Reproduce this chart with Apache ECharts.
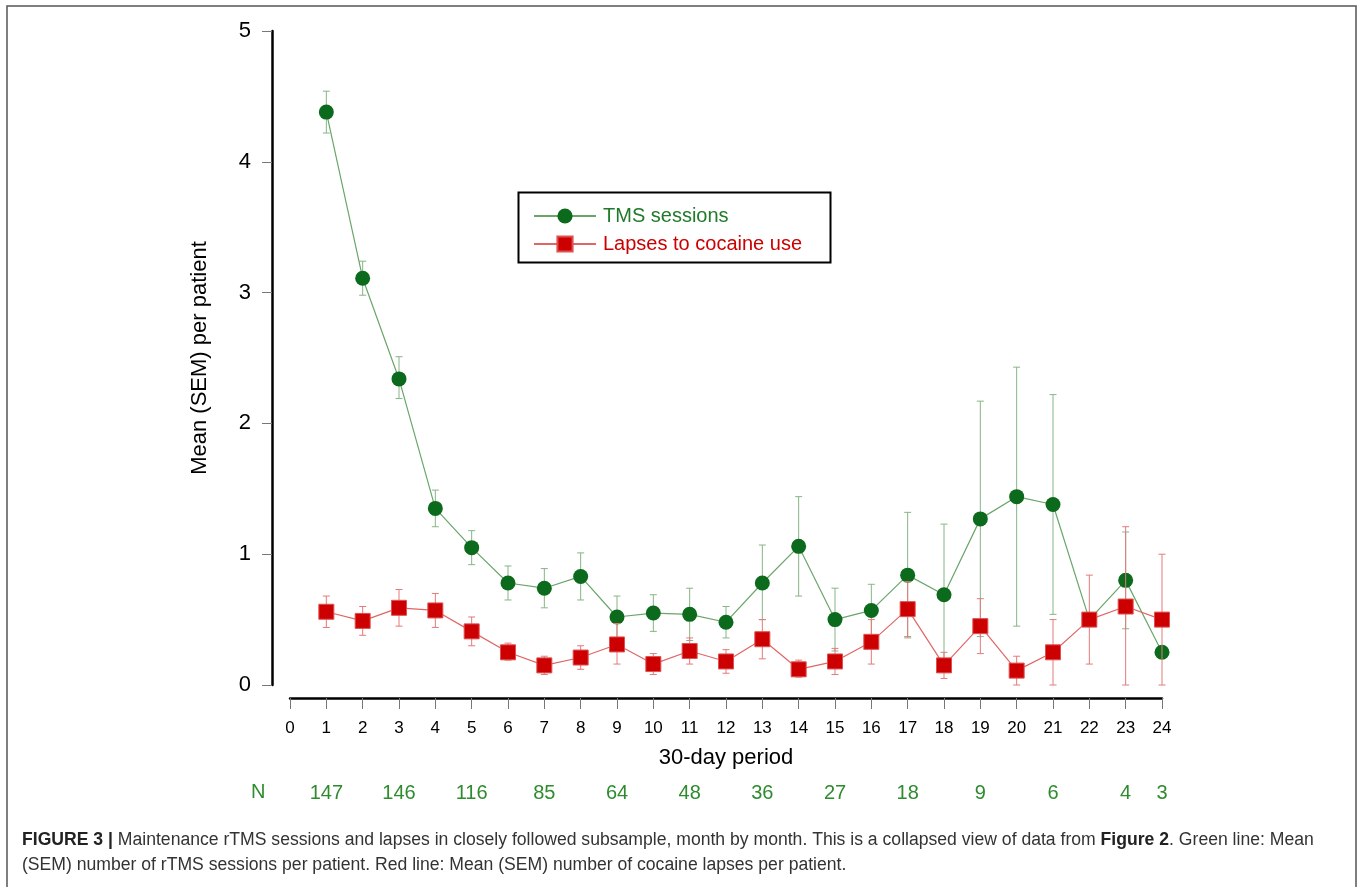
<!DOCTYPE html>
<html>
<head>
<meta charset="utf-8">
<script src="https://cdn.jsdelivr.net/npm/echarts@6/dist/echarts.min.js"></script>
<style>
  html, body { margin: 0; padding: 0; background: #fff; }
  #chart { width: 1357px; height: 887px; }
</style>
</head>
<body>
<div id="chart"></div>
<script>
// ---- data ----
const periods = [1,2,3,4,5,6,7,8,9,10,11,12,13,14,15,16,17,18,19,20,21,22,23,24];

const tmsMean  = [4.38,3.11,2.34,1.35,1.05,0.78,0.74,0.83,0.52,0.55,0.54,0.48,0.78,1.06,0.50,0.57,0.84,0.69,1.27,1.44,1.38,0.50,0.80,0.25];
const tmsUpper = [4.54,3.24,2.51,1.49,1.18,0.91,0.89,1.01,0.68,0.69,0.74,0.60,1.07,1.44,0.74,0.77,1.32,1.23,2.17,2.43,2.22,0.50,1.17,0.25];
const tmsLower = [4.22,2.98,2.19,1.21,0.92,0.65,0.59,0.65,0.36,0.41,0.34,0.36,0.50,0.68,0.26,0.37,0.36,0.15,0.37,0.45,0.54,0.50,0.43,0.25];

const lapseMean  = [0.56,0.49,0.59,0.57,0.41,0.25,0.15,0.21,0.31,0.16,0.26,0.18,0.35,0.12,0.18,0.33,0.58,0.15,0.45,0.11,0.25,0.50,0.60,0.50];
const lapseUpper = [0.68,0.60,0.73,0.70,0.52,0.32,0.22,0.30,0.47,0.24,0.36,0.27,0.50,0.19,0.28,0.50,0.79,0.25,0.66,0.22,0.50,0.84,1.21,1.00];
const lapseLower = [0.44,0.38,0.45,0.44,0.30,0.19,0.08,0.12,0.16,0.08,0.16,0.09,0.20,0.06,0.08,0.16,0.37,0.05,0.24,0.00,0.00,0.16,0.00,0.00];

const nPeriods = [1,3,5,7,9,11,13,15,17,19,21,23,24];
const nValues  = [147,146,116,85,64,48,36,27,18,9,6,4,3];

const yTicks = [0,1,2,3,4,5];

const captionLine1 = "{b|FIGURE 3 |} Maintenance rTMS sessions and lapses in closely followed subsample, month by month. This is a collapsed view of data from {b|Figure 2}. Green line: Mean";
const captionLine2 = "(SEM) number of rTMS sessions per patient. Red line: Mean (SEM) number of cocaine lapses per patient.";

// ---- build ----
const FONT = '"Liberation Sans", Arial, Helvetica, sans-serif';
const GREEN = '#0b6a1c';
const GREEN_LINE = '#6aa56a';
const GREEN_ERR = '#86b586';
const RED = '#cc0000';
const RED_LINE = '#e06666';
const RED_ERR = '#e47a7a';

const nMap = {};
nPeriods.forEach((p, i) => { nMap[p] = nValues[i]; });

function errData(lo, hi) {
  return periods.map((p, i) => [p, lo[i], hi[i]]);
}

function errRender(color) {
  return function (params, api) {
    const x = api.value(0);
    const lo = api.coord([x, api.value(1)]);
    const hi = api.coord([x, api.value(2)]);
    const w = 3.5;
    const style = { stroke: color, lineWidth: 1, fill: null };
    return {
      type: 'group',
      children: [
        { type: 'line', shape: { x1: lo[0], y1: lo[1], x2: hi[0], y2: hi[1] }, style },
        { type: 'line', shape: { x1: hi[0] - w, y1: hi[1], x2: hi[0] + w, y2: hi[1] }, style },
        { type: 'line', shape: { x1: lo[0] - w, y1: lo[1], x2: lo[0] + w, y2: lo[1] }, style }
      ]
    };
  };
}

const chart = echarts.init(document.getElementById('chart'), null, { renderer: 'canvas' });

const option = {
  backgroundColor: '#ffffff',
  animation: false,
  textStyle: { fontFamily: FONT },
  grid: { left: 290, right: 195, top: 31, bottom: 202, containLabel: false },
  legend: {
    orient: 'vertical',
    left: 533,
    top: 206,
    padding: 0,
    itemWidth: 62,
    itemHeight: 19,
    itemGap: 8,
    textStyle: { fontSize: 20, fontFamily: FONT, padding: [0, 0, 0, 2] },
    data: [
      { name: 'TMS sessions', textStyle: { color: '#217a2a' } },
      { name: 'Lapses to cocaine use', textStyle: { color: RED } }
    ]
  },
  xAxis: [
    {
      type: 'value', min: 0, max: 24, interval: 1,
      position: 'bottom', offset: 13,
      name: '30-day period', nameLocation: 'middle', nameGap: 49,
      nameTextStyle: { fontSize: 22, color: '#000', fontFamily: FONT },
      axisLine: { show: true, onZero: false, lineStyle: { color: '#000', width: 2.5 } },
      axisTick: { show: true, inside: false, length: 11, lineStyle: { color: '#777', width: 1 } },
      axisLabel: { fontSize: 17, color: '#000', margin: 22, fontFamily: FONT },
      splitLine: { show: false }
    },
    {
      type: 'value', min: 0, max: 24, interval: 1,
      position: 'bottom', offset: 90,
      axisLine: { show: false },
      axisTick: { show: false },
      axisLabel: {
        fontSize: 20, color: '#2e8b2e', margin: 8, fontFamily: FONT,
        formatter: v => (nMap[v] !== undefined ? String(nMap[v]) : '')
      },
      splitLine: { show: false }
    }
  ],
  yAxis: {
    type: 'value', min: 0, max: 5, interval: 1,
    position: 'left', offset: 18,
    name: 'Mean (SEM) per patient', nameLocation: 'middle', nameGap: 61, nameRotate: 90,
    nameTextStyle: { fontSize: 22, color: '#000', fontFamily: FONT },
    axisLine: { show: true, onZero: false, lineStyle: { color: '#000', width: 2.5 } },
    axisTick: { show: true, inside: false, length: 10, lineStyle: { color: '#777', width: 1 } },
    axisLabel: {
      fontSize: 22, color: '#000', margin: 21, fontFamily: FONT,
      formatter: v => (yTicks.indexOf(v) >= 0 ? String(v) : '')
    },
    splitLine: { show: false }
  },
  series: [
    {
      name: 'tmsErr', type: 'custom', z: 1,
      renderItem: errRender(GREEN_ERR),
      encode: { x: 0, y: [1, 2] },
      data: errData(tmsLower, tmsUpper),
      silent: true
    },
    {
      name: 'TMS sessions', type: 'line', z: 2,
      data: periods.map((p, i) => [p, tmsMean[i]]),
      symbol: 'circle', symbolSize: 15,
      itemStyle: { color: GREEN, borderWidth: 0 },
      lineStyle: { color: GREEN_LINE, width: 1.2 }
    },
    {
      name: 'lapseErr', type: 'custom', z: 3,
      renderItem: errRender(RED_ERR),
      encode: { x: 0, y: [1, 2] },
      data: errData(lapseLower, lapseUpper),
      silent: true
    },
    {
      name: 'Lapses to cocaine use', type: 'line', z: 4,
      data: periods.map((p, i) => [p, lapseMean[i]]),
      symbol: 'rect', symbolSize: 15,
      itemStyle: { color: RED, borderColor: '#e05050', borderWidth: 1 },
      lineStyle: { color: RED_LINE, width: 1.2 }
    }
  ],
  graphic: [
    {
      type: 'rect', z: 0,
      shape: { x: 7, y: 6, width: 1349, height: 900 },
      style: { fill: null, stroke: '#555', lineWidth: 1.5 }
    },
    {
      type: 'rect', z: 10,
      shape: { x: 518.5, y: 192.5, width: 312, height: 70 },
      style: { fill: null, stroke: '#000', lineWidth: 2 }
    },
    {
      type: 'text', left: 251, top: 782,
      style: { text: 'N', fontSize: 20, fill: '#2e8b2e', fontFamily: FONT }
    },
    {
      type: 'text', left: 22, top: 831,
      style: {
        text: captionLine1, fontSize: 17.6, fill: '#333', fontFamily: FONT,
        rich: { b: { fontWeight: 'bold', fontSize: 17.6, fill: '#222', fontFamily: FONT } }
      }
    },
    {
      type: 'text', left: 22, top: 856,
      style: { text: captionLine2, fontSize: 17.6, fill: '#333', fontFamily: FONT }
    }
  ]
};

chart.setOption(option);
</script>
</body>
</html>
